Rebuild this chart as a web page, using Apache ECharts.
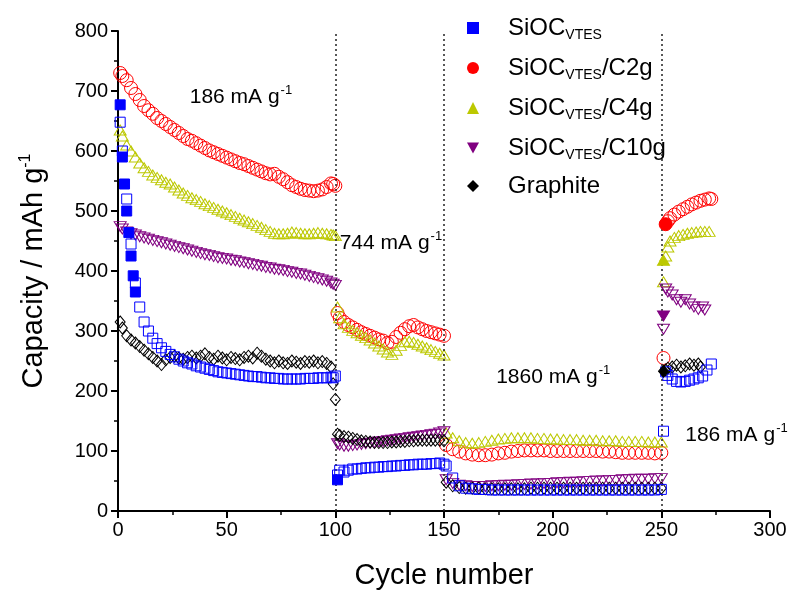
<!DOCTYPE html>
<html><head><meta charset="utf-8">
<script src="https://cdn.jsdelivr.net/npm/echarts@6/dist/echarts.min.js"></script>
<style>html,body{margin:0;padding:0;background:#fff}#c{width:794px;height:595px}</style>
</head><body><div id="c"></div>
<script>
// ---------- DATA ----------
const seriesNames = ['SiOC_VTES', 'SiOC_VTES/C2g', 'SiOC_VTES/C4g', 'SiOC_VTES/C10g', 'Graphite'];
const xTicks = [0, 50, 100, 150, 200, 250, 300];
const yTicks = [0, 100, 200, 300, 400, 500, 600, 700, 800];

// cycle numbers of the sampled points in each current-density step
const cycles1 = [1,2,4,6,8,10,12,14,16,18,20,22,24,26,28,30,32,34,36,38,40,42,44,46,48,50,52,54,56,58,60,62,64,66,68,70,72,74,76,78,80,82,84,86,88,90,92,94,96,98,99,100];
const cycles2 = [101,102,104,106,108,110,112,114,116,118,120,122,124,126,128,130,132,134,136,138,140,142,144,146,148,150];
const cycles3 = [151,154,157,160,163,166,169,172,175,178,181,184,187,190,193,196,199,202,205,208,211,214,217,220,223,226,229,232,235,238,241,244,247,250];

// SiOC_VTES/C2g (red)
const c2g1 = [730,725,718,705,695,685,675,668,662,655,650,645,640,635,630,625,620,617,613,609,605,601,598,595,592,589,586,583,580,578,575,572,569,566,563,561,562,557,553,548,543,540,537,535,534,533,534,536,540,546,545,542];
const c2g2 = [330,322,315,310,306,302,298,295,292,289,286,284,280,282,290,297,303,308,310,306,303,300,298,296,294,292];
const c2g3 = [110,103,99,96,94,93,93,94,96,97,99,100,101,101,101,101,100,100,100,100,100,100,100,100,99,99,98,97,97,97,97,97,96,97];
const c2gCycles4 = [251,253,254,256,258,260,262,264,266,268,270,272,273];
const c2g4 = [255,483,488,494,499,503,507,511,514,517,519,521,520];
const c2gFilledCycles = [252];
const c2gFilled = [478];

// SiOC_VTES/C4g (yellow-green)
const c4g1 = [635,625,610,600,590,580,572,566,560,556,552,548,545,540,535,530,526,522,519,516,512,509,506,503,500,497,494,491,488,485,482,479,476,473,469,466,463,462,462,463,465,464,463,462,462,463,464,463,462,461,460,459];
const c4g2 = [340,322,312,306,301,297,293,289,285,280,275,270,265,261,268,276,282,283,281,278,275,272,269,266,263,260];
const c4g3 = [130,122,117,114,113,114,116,118,120,121,122,122,122,122,121,121,120,120,119,119,119,118,118,118,117,117,117,116,116,116,116,115,115,115];
const c4gCycles4 = [251,252,253,254,256,258,260,262,264,266,268,270,272];
const c4g4 = [382,425,440,450,456,459,461,463,464,465,466,466,466];
const c4gFilledCycles = [251];
const c4gFilled = [418];

// SiOC_VTES/C10g (purple)
const c10g1 = [474,470,465,462,460,457,455,453,451,449,447,445,443,441,439,437,435,433,431,429,427,426,424,422,421,420,418,417,415,414,412,411,409,408,406,405,403,402,401,399,398,396,395,393,391,389,387,385,383,380,378,376];
const c10g2 = [112,110,108,108,109,110,111,112,113,114,115,116,117,118,119,120,121,122,123,124,125,126,127,128,130,132];
const c10g3 = [52,46,43,42,41,41,41,42,42,43,43,44,44,45,45,46,46,47,47,48,48,49,49,50,50,51,51,52,52,53,53,53,54,54];
const c10gCycles4 = [251,252,253,255,257,259,261,263,265,267,269,270];
const c10g4 = [303,370,365,360,352,348,352,345,340,336,340,335];
const c10gFilledCycles = [251];
const c10gFilled = [325];

// Graphite (black)
const gr1 = [315,305,292,285,280,274,268,262,256,250,244,252,256,258,255,253,256,258,255,258,262,256,253,258,255,252,256,254,252,256,258,255,263,258,253,250,247,250,247,246,250,248,246,249,248,250,247,249,246,240,212,186];
const gr2 = [128,126,124,123,121,119,117,116,115,114,114,114,114,115,115,116,116,117,117,118,118,118,118,118,118,117];
const gr3 = [48,42,39,38,38,38,37,37,37,37,37,37,37,38,38,38,38,38,38,38,38,38,38,38,38,38,38,38,38,38,38,38,38,38];
const grCycles4 = [252,253,255,257,259,261,263,265,267,268];
const gr4 = [235,238,240,243,240,242,245,243,245,240];
const grFilledCycles = [251];
const grFilled = [233];

// SiOC_VTES (blue)
const v1 = [648,600,520,445,380,340,315,300,288,279,272,266,261,257,253,250,247,245,242,240,238,236,234,232,231,230,229,228,227,226,225,224,224,223,222,222,221,221,220,220,220,220,220,221,221,221,222,222,222,223,222,225];
const v2 = [60,68,65,68,70,70,71,72,72,73,73,74,74,75,75,76,76,77,77,78,78,78,79,79,80,78];
const v3 = [75,55,42,38,37,36,36,35,35,35,35,35,35,35,35,35,35,35,35,35,35,35,35,35,35,35,35,35,35,35,35,35,35,36];
const vCycles4 = [251,252,253,255,257,259,261,263,265,267,269,271,273];
const v4 = [133,232,226,220,216,215,216,218,220,222,225,235,245];
const vFilledCycles = [1,2,3,4,5,6,7,8,101];
const vFilled = [677,590,545,500,464,425,392,365,52];

// rate annotations: [cycle, capacity, label]
const notes = [[33, 690, '186 mA g'], [102, 447, '744 mA g'], [174, 223, '1860 mA g'], [261, 126, '186 mA g']];

// ---------- CHART ----------
const FONT = 'Arial, "Liberation Sans", sans-serif';
const colors = ['#0000ff', '#ff0000', '#bcc800', '#800080', '#000000'];
const symbols = ['rect', 'circle', 'triangle', 'triangle', 'diamond'];
const rots = [0, 0, 0, 180, 0];
const sizes = [[10,10], 13, [12,10], [12,10], [10,12]];
const legendIcons = ['rect', 'circle', 'triangle', 'path://M0,0L2,0L1,1.8Z', 'diamond'];

function pairs(xs, ys) { return xs.map((x, i) => [x, ys[i]]); }

const hollowData = [
  pairs(cycles1, v1).concat(pairs(cycles2, v2), pairs(cycles3, v3), pairs(vCycles4, v4)),
  pairs(cycles1, c2g1).concat(pairs(cycles2, c2g2), pairs(cycles3, c2g3), pairs(c2gCycles4, c2g4)),
  pairs(cycles1, c4g1).concat(pairs(cycles2, c4g2), pairs(cycles3, c4g3), pairs(c4gCycles4, c4g4)),
  pairs(cycles1, c10g1).concat(pairs(cycles2, c10g2), pairs(cycles3, c10g3), pairs(c10gCycles4, c10g4)),
  pairs(cycles1, gr1).concat(pairs(cycles2, gr2), pairs(cycles3, gr3), pairs(grCycles4, gr4))
];
const filledData = [
  pairs(vFilledCycles, vFilled), pairs(c2gFilledCycles, c2gFilled), pairs(c4gFilledCycles, c4gFilled),
  pairs(c10gFilledCycles, c10gFilled), pairs(grFilledCycles, grFilled)
];
const zOrder = [6, 2, 3, 4, 5];

const series = [];
seriesNames.forEach((name, i) => {
  series.push({
    type: 'scatter', name, symbol: symbols[i], symbolRotate: rots[i], symbolSize: sizes[i],
    itemStyle: { color: 'rgba(255,255,255,0)', borderColor: colors[i], borderWidth: 1, opacity: 1 },
    data: hollowData[i], z: zOrder[i], silent: true
  });
  series.push({
    type: 'scatter', name, symbol: symbols[i], symbolRotate: rots[i], symbolSize: sizes[i],
    itemStyle: { color: colors[i], borderColor: colors[i], borderWidth: 1, opacity: 1 },
    data: filledData[i], z: 10, silent: true
  });
});
series[2].markLine = {
  silent: true, symbol: ['none', 'none'], label: { show: false }, animation: false,
  lineStyle: { color: '#222', type: [2, 3], width: 1.5 },
  data: [{ xAxis: 100 }, { xAxis: 150 }, { xAxis: 250 }]
};

const axisCommon = {
  type: 'value',
  axisLine: { show: true, onZero: false, lineStyle: { color: '#000', width: 2 } },
  axisTick: { show: true, length: 7, lineStyle: { color: '#000', width: 2 } },
  minorTick: { show: true, splitNumber: 2, length: 4, lineStyle: { color: '#000', width: 1.5 } },
  splitLine: { show: false },
  axisLabel: { fontSize: 20, color: '#000', fontFamily: FONT },
  nameLocation: 'middle'
};

function legendFmt(name) {
  if (name.indexOf('SiOC_VTES') === 0) {
    const rest = name.slice(9);
    return '{a|SiOC}{s|VTES}' + (rest ? '{a|' + rest + '}' : '');
  }
  return '{a|' + name + '}';
}

const chart = echarts.init(document.getElementById('c'), null, { renderer: 'canvas' });
chart.setOption({
  animation: false,
  backgroundColor: '#fff',
  grid: { left: 118, right: 24, top: 31, bottom: 83, containLabel: false },
  xAxis: Object.assign({}, axisCommon, {
    min: xTicks[0], max: xTicks[xTicks.length - 1], interval: xTicks[1] - xTicks[0],
    axisLabel: Object.assign({}, axisCommon.axisLabel, { margin: 9 }),
    name: 'Cycle number', nameGap: 50,
    nameTextStyle: { fontSize: 29, color: '#000', fontFamily: FONT }
  }),
  yAxis: Object.assign({}, axisCommon, {
    min: yTicks[0], max: yTicks[yTicks.length - 1], interval: yTicks[1] - yTicks[0],
    axisLabel: Object.assign({}, axisCommon.axisLabel, { margin: 10 }),
    name: '{a|Capacity / mAh g}{s|-1}', nameGap: 68,
    nameTextStyle: {
      color: '#000', fontFamily: FONT,
      rich: {
        a: { fontSize: 29, fontFamily: FONT, color: '#000', lineHeight: 32 },
        s: { fontSize: 16, fontFamily: FONT, color: '#000', lineHeight: 16, padding: [0, 0, 16, 0], verticalAlign: 'top' }
      }
    }
  }),
  legend: {
    orient: 'vertical', left: 462, top: 9, itemWidth: 12, itemHeight: 12, itemGap: 12,
    selectedMode: false,
    data: seriesNames.map((n, i) => ({ name: n, icon: legendIcons[i], itemStyle: { color: colors[i], borderWidth: 0 } })),
    formatter: legendFmt,
    textStyle: {
      padding: [0, 0, 0, 24],
      rich: {
        a: { fontSize: 24, fontFamily: FONT, color: '#000', lineHeight: 28 },
        s: { fontSize: 14, fontFamily: FONT, color: '#000', lineHeight: 14, padding: [14, 0, 0, 0], verticalAlign: 'bottom' }
      }
    }
  },
  series
});

chart.setOption({
  graphic: notes.map(n => {
    const p = chart.convertToPixel({ gridIndex: 0 }, [n[0], n[1]]);
    return {
      type: 'text', x: p[0], y: p[1], z: 20, silent: true,
      style: {
        text: '{a|' + n[2] + '}{s|-1}', verticalAlign: 'middle', align: 'left',
        rich: {
          a: { fontSize: 21, fontFamily: FONT, fill: '#000', lineHeight: 26 },
          s: { fontSize: 13, fontFamily: FONT, fill: '#000', lineHeight: 13, padding: [0, 0, 13, 1], verticalAlign: 'top' }
        }
      }
    };
  })
});
</script></body></html>
